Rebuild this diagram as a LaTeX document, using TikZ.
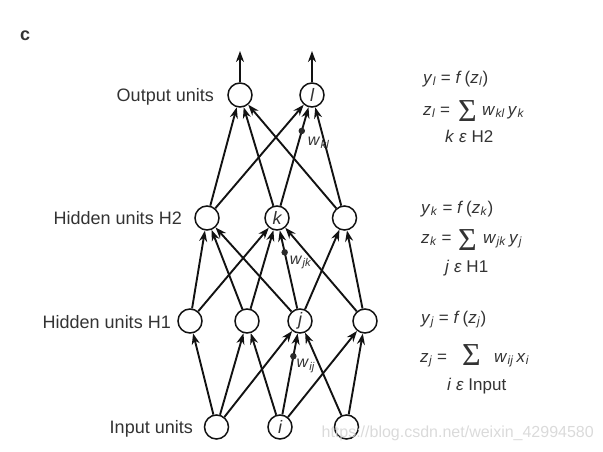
\documentclass[tikz,border=0pt]{standalone}
\usepackage{fontspec}
\setmainfont{Liberation Sans}
\newfontfamily\sigfont{Liberation Serif}
\usetikzlibrary{arrows.meta}
\definecolor{txt}{HTML}{333333}
\definecolor{ink}{HTML}{121212}
\definecolor{wmark}{HTML}{D4D4D4}
\newcommand{\vsub}[2]{\textit{#1}\kern0.3pt\textsubscript{\textit{#2}}}
\begin{document}
\begin{tikzpicture}[x=1pt,y=-1pt,
  unit/.style={circle,draw=ink,line width=1.5pt,minimum size=24pt,inner sep=0pt,fill=white,
    font=\fontsize{18}{18}\selectfont\itshape,text=txt},
  conn/.style={-{Stealth[length=11pt,width=8pt,inset=3.5pt]},line width=1.9pt,draw=ink},
  lbl/.style={font=\fontsize{18}{18}\selectfont,text=txt,anchor=base east,inner sep=0pt},
  eq/.style={font=\fontsize{17}{20}\selectfont,text=txt,anchor=base west,inner sep=0pt},
  sig/.style={font=\sigfont\fontsize{32}{32}\selectfont,text=txt,anchor=center,inner sep=0pt},
  wdot/.style={circle,fill=ink!90,inner sep=0pt,minimum size=6.5pt},
  wlab/.style={font=\fontsize{16}{16}\selectfont,text=txt,anchor=west,inner sep=0pt}]

\useasboundingbox (0,0) rectangle (603,451);

% panel letter
\node[font=\fontsize{18}{18}\selectfont\bfseries,text=txt,anchor=base west,inner sep=0pt] (panel) at (20,40) {c};

% layer labels
\node[lbl] (lout) at (214,101) {Output units};
\node[lbl] (lh2) at (182,224) {Hidden units H2};
\node[lbl] (lh1) at (171,328) {Hidden units H1};
\node[lbl] (lin) at (193,433) {Input units};

% units
\node[unit] (o1) at (240,95) {};
\node[unit] (o2) at (312,95) {l};
\node[unit] (h2a) at (207,218) {};
\node[unit] (h2b) at (277,218) {k};
\node[unit] (h2c) at (344.5,218) {};
\node[unit] (h1a) at (190,321) {};
\node[unit] (h1b) at (247,321) {};
\node[unit] (h1c) at (300,321) {j};
\node[unit] (h1d) at (365,321) {};
\node[unit] (ia) at (216.5,427) {};
\node[unit] (ib) at (280,427) {i};
\node[unit] (ic) at (346.5,427) {};

\coordinate (o1top) at (240,51);
\coordinate (o2top) at (312,51);

% output arrows
\draw[conn] (o1) -- (o1top);
\draw[conn] (o2) -- (o2top);

% input -> H1
\draw[conn] (ia) -- (h1a);
\draw[conn] (ia) -- (h1b);
\draw[conn] (ia) -- (h1c);
\draw[conn] (ib) -- (h1b);
\draw[conn] (ib) -- node[pos=0.72,wdot] (dij) {} (h1c);
\draw[conn] (ib) -- (h1d);
\draw[conn] (ic) -- (h1c);
\draw[conn] (ic) -- (h1d);

% H1 -> H2
\draw[conn] (h1a) -- (h2a);
\draw[conn] (h1a) -- (h2b);
\draw[conn] (h1b) -- (h2a);
\draw[conn] (h1b) -- (h2b);
\draw[conn] (h1c) -- (h2a);
\draw[conn] (h1c) -- node[pos=0.72,wdot] (djk) {} (h2b);
\draw[conn] (h1c) -- (h2c);
\draw[conn] (h1d) -- (h2b);
\draw[conn] (h1d) -- (h2c);

% H2 -> output
\draw[conn] (h2a) -- (o1);
\draw[conn] (h2a) -- (o2);
\draw[conn] (h2b) -- (o1);
\draw[conn] (h2b) -- node[pos=0.76,wdot] (dkl) {} (o2);
\draw[conn] (h2c) -- (o1);
\draw[conn] (h2c) -- (o2);

% weight labels
\node[wlab] (wkl) at ([xshift=6pt,yshift=-12pt]dkl.center) {\vsub{w}{kl}};
\node[wlab] (wjk) at ([xshift=5pt,yshift=-10pt]djk.center) {\vsub{w}{jk}};
\node[wlab] (wij) at ([xshift=3pt,yshift=-10pt]dij.center) {\vsub{w}{ij}};

% equations block 1
\node[eq] (e1a) at (423,83) {\vsub{y}{l} = \textit{f}\,(\vsub{z}{l})};
\node[eq] (e1b) at (423,115) {\vsub{z}{l} =};
\node[sig] (s1) at (467.5,111) {Σ};
\node[eq] (e1c) at (482,115) {\vsub{w}{kl}\,\vsub{y}{k}};
\node[eq] (e1d) at (445,142) {\textit{k} \textit{ε} H2};

% equations block 2
\node[eq] (e2a) at (421,213) {\vsub{y}{k} = \textit{f}\,(\vsub{z}{k})};
\node[eq] (e2b) at (421,243) {\vsub{z}{k} =};
\node[sig] (s2) at (467.5,240) {Σ};
\node[eq] (e2c) at (483,243) {\vsub{w}{jk}\,\vsub{y}{j}};
\node[eq] (e2d) at (445,272) {\textit{j} \textit{ε} H1};

% equations block 3
\node[eq] (e3a) at (421,323) {\vsub{y}{j} = \textit{f}\,(\vsub{z}{j})};
\node[eq] (e3b) at (420,362) {\vsub{z}{j} =};
\node[sig] (s3) at (471.5,355) {Σ};
\node[eq] (e3c) at (494,362) {\vsub{w}{ij}\,\vsub{x}{i}};
\node[eq] (e3d) at (447,390) {\textit{i} \textit{ε} Input};

% watermark
\node[font=\fontsize{16}{16}\selectfont,text=wmark,anchor=base east,inner sep=0pt,opacity=0.85] (wm) at (594,437) {https://blog.csdn.net/weixin\_42994580};
\end{tikzpicture}
\end{document}
